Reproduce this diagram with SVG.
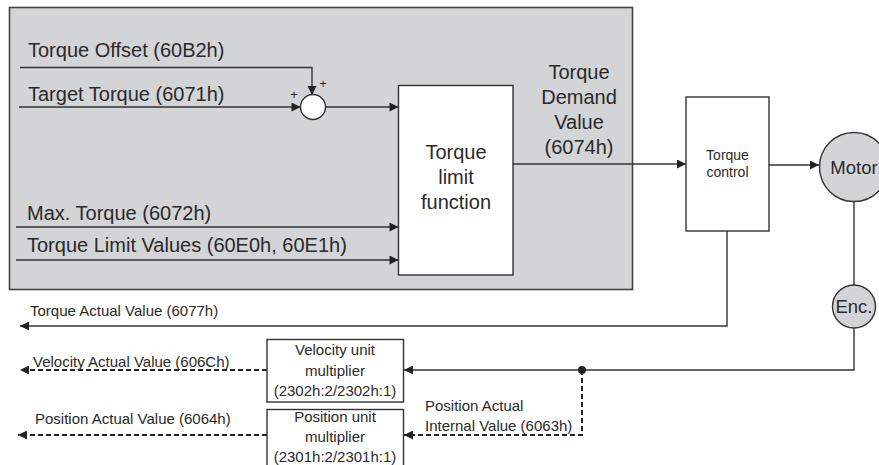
<svg xmlns="http://www.w3.org/2000/svg" width="879" height="465" viewBox="0 0 879 465">
<defs>
<marker id="ah" viewBox="0 0 10 10" refX="10" refY="5" markerWidth="10" markerHeight="9" markerUnits="userSpaceOnUse" orient="auto">
<path d="M0,0 L10,5 L0,10 Z" fill="#222"/>
</marker>
</defs>
<style>
.t{font-family:"Liberation Sans",Arial,sans-serif;fill:#2a2a2a}
.big{font-size:20px}
.mid{font-size:15px}
.sm{font-size:14px}
.pl{font-size:13px}
.ln{fill:none;stroke:#333;stroke-width:1.4}
.ds{fill:none;stroke:#222;stroke-width:2;stroke-dasharray:5 3}
.box{fill:#fff;stroke:#333;stroke-width:1.4}
.gc{fill:#d4d4d6;stroke:#333;stroke-width:1.4}
</style>
<rect id="area" x="9.5" y="7.5" width="623" height="282" fill="#d3d4d6" stroke="#444" stroke-width="1.6"/>
<g id="connectors">
<path class="ln" d="M20,67.5 H312 V95" marker-end="url(#ah)"/>
<path class="ln" d="M19,107 H300.5" marker-end="url(#ah)"/>
<path class="ln" d="M325.5,107 H398.5" marker-end="url(#ah)"/>
<path class="ln" d="M16,227 H398.5" marker-end="url(#ah)"/>
<path class="ln" d="M16,260 H398.5" marker-end="url(#ah)"/>
<path class="ln" d="M513,164 H686" marker-end="url(#ah)"/>
<path class="ln" d="M769,165 H819" marker-end="url(#ah)"/>
<path class="ln" d="M854,201 V285"/>
<path class="ln" d="M727,231 V326 H20" marker-end="url(#ah)"/>
<path class="ln" d="M854,328 V370 H404" marker-end="url(#ah)"/>
<path class="ds" d="M582,370 V435 H404" marker-end="url(#ah)"/>
<path class="ds" d="M267,370 H20" marker-end="url(#ah)"/>
<path class="ds" d="M267,435 H18" marker-end="url(#ah)"/>
<circle cx="582" cy="370" r="4" fill="#222"/>
</g>
<g id="labels">
<text class="t big" x="28" y="57">Torque Offset (60B2h)</text>
<text class="t big" x="28" y="101">Target Torque (6071h)</text>
<text class="t big" x="27" y="220">Max. Torque (6072h)</text>
<text class="t big" x="27" y="252">Torque Limit Values (60E0h, 60E1h)</text>
<text class="t pl" x="323" y="88" text-anchor="middle">+</text>
<text class="t pl" x="294" y="99" text-anchor="middle">+</text>
<g id="demand-label">
<text class="t big" x="579" y="79" text-anchor="middle">Torque</text>
<text class="t big" x="579" y="104" text-anchor="middle">Demand</text>
<text class="t big" x="579" y="129" text-anchor="middle">Value</text>
<text class="t big" x="579" y="154" text-anchor="middle">(6074h)</text>
</g>
<text class="t mid" x="30" y="316">Torque Actual Value (6077h)</text>
<text class="t mid" x="33" y="367">Velocity Actual Value (606Ch)</text>
<text class="t mid" x="35" y="424">Position Actual Value (6064h)</text>
<text class="t mid" x="425" y="411">Position Actual</text>
<text class="t mid" x="425" y="431">Internal Value (6063h)</text>
</g>
<g id="sum">
<circle cx="313" cy="107" r="12.5" fill="#fff" stroke="#333" stroke-width="1.4"/>
</g>
<g id="torque-limit">
<rect class="box" x="398.5" y="85.5" width="114.5" height="189.5"/>
<text class="t big" x="456" y="159" text-anchor="middle">Torque</text>
<text class="t big" x="456" y="184" text-anchor="middle">limit</text>
<text class="t big" x="456" y="209" text-anchor="middle">function</text>
</g>
<g id="torque-control">
<rect class="box" x="686" y="97" width="83" height="134"/>
<text class="t sm" x="727.5" y="160" text-anchor="middle">Torque</text>
<text class="t sm" x="727.5" y="177" text-anchor="middle">control</text>
</g>
<g id="motor">
<circle class="gc" cx="854" cy="167" r="34.5"/>
<text class="t" style="font-size:18.5px" x="854" y="173.5" text-anchor="middle">Motor</text>
</g>
<g id="enc">
<circle class="gc" cx="854" cy="306.5" r="21.5"/>
<text class="t" style="font-size:18.5px" x="854" y="313" text-anchor="middle">Enc.</text>
</g>
<g id="velocity-mult">
<rect class="box" x="267" y="339.5" width="136.5" height="62.5"/>
<text class="t mid" x="335" y="355" text-anchor="middle">Velocity unit</text>
<text class="t mid" x="335" y="376" text-anchor="middle">multiplier</text>
<text class="t mid" x="335" y="396" text-anchor="middle">(2302h:2/2302h:1)</text>
</g>
<g id="position-mult">
<rect class="box" x="267" y="409.5" width="136.5" height="62"/>
<text class="t mid" x="335" y="422" text-anchor="middle">Position unit</text>
<text class="t mid" x="335" y="442" text-anchor="middle">multiplier</text>
<text class="t mid" x="335" y="462" text-anchor="middle">(2301h:2/2301h:1)</text>
</g>
</svg>
